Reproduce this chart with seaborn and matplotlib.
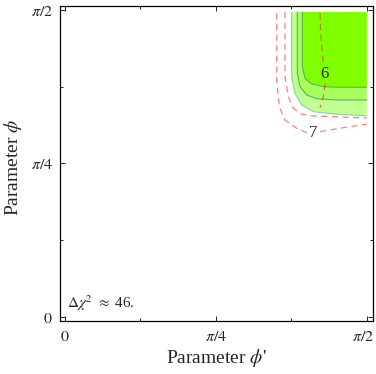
import numpy as np
import pandas as pd
import matplotlib
matplotlib.use("Agg")
import matplotlib.pyplot as plt
import matplotlib.transforms as mtransforms
import seaborn as sns

# ---- data (radians) ----
PI2 = np.pi / 2
y_top = 1.5607

# filled region boundaries (contour lines of the filled bands)
bandA_x = [1.1810, 1.1810, 1.1981, 1.2330, 1.2933, 1.4149, 1.5708]
bandA_y = [1.5607, 1.2293, 1.1443, 1.0843, 1.0500, 1.0367, 1.0295]
bandB_x = [1.2101, 1.2101, 1.2241, 1.2590, 1.3109, 1.4149, 1.5708]
bandB_y = [1.5607, 1.2467, 1.1781, 1.1355, 1.1166, 1.1099, 1.1099]
bandC_x = [1.2361, 1.2361, 1.2501, 1.2849, 1.3452, 1.4149, 1.5708]
bandC_y = [1.5607, 1.2805, 1.2211, 1.1919, 1.1781, 1.1750, 1.1750]

# dashed contours
dashA_x = [1.1462, 1.1462, 1.1633, 1.1893, 1.2330, 1.2933, 1.4320, 1.5708]
dashA_y = [1.5607, 1.2293, 1.1268, 1.0674, 1.0367, 1.0280, 1.0229, 1.0177]
dash7a_x = [1.1030, 1.1030, 1.1165, 1.1462, 1.2070, 1.2590]
dash7a_y = [1.5540, 1.2124, 1.0756, 1.0075, 0.9650, 0.9424]
dash7b_x = [1.3281, 1.4492, 1.5708]
dash7b_y = [0.9476, 0.9681, 0.9855]
dash6a_x = [1.3281, 1.3317, 1.3400, 1.3452]
dash6a_y = [1.5540, 1.4516, 1.3491, 1.2943]
dash6b_x = [1.3541, 1.3452, 1.3281]
dash6b_y = [1.1919, 1.1268, 1.0690]

labels_txt = ["6", "7"]
labels_x = [1.3515, 1.2917]
labels_y = [1.2431, 0.9409]

tick_vals = [0, np.pi / 4, np.pi / 2]
tick_labels = ["$0$", r"$\pi/4$", r"$\pi/2$"]
minor_vals = [np.pi / 8, 3 * np.pi / 8]
chi_text = r"$\Delta\chi^2$ $\approx$ 46."
xlabel_txt = r"Parameter $\phi$'"
ylabel_txt = r"Parameter $\phi$"

# ---- style ----
sns.set_style("ticks")
plt.rcParams["font.family"] = ["Liberation Serif", "DejaVu Serif"]
plt.rcParams["mathtext.fontset"] = "stix"

fig = plt.figure(figsize=(3.76, 3.74), dpi=100)
ax = fig.add_axes([0.1588, 0.1417, 0.8324, 0.8431])

band_colors = ["#c0ff90", "#a6ff5c", "#80ff00"]
for bx, by, col in [(bandA_x, bandA_y, band_colors[0]),
                    (bandB_x, bandB_y, band_colors[1]),
                    (bandC_x, bandC_y, band_colors[2])]:
    px = list(bx) + [PI2]
    py = list(by) + [y_top]
    ax.fill(px, py, color=col, lw=0, zorder=1)

line_cols = ["#8fcfa8", "#5fb060", "#5fb060"]
for (bx, by), lc in zip([(bandA_x, bandA_y), (bandB_x, bandB_y), (bandC_x, bandC_y)], line_cols):
    df = pd.DataFrame({"x": bx, "y": by})
    sns.lineplot(data=df, x="x", y="y", sort=False, estimator=None, ax=ax,
                 color=lc, lw=0.8, zorder=2)

for dx, dy in [(dashA_x, dashA_y), (dash7a_x, dash7a_y), (dash7b_x, dash7b_y),
               (dash6a_x, dash6a_y), (dash6b_x, dash6b_y)]:
    df = pd.DataFrame({"x": dx, "y": dy})
    sns.lineplot(data=df, x="x", y="y", sort=False, estimator=None, ax=ax,
                 color="red", alpha=0.5, lw=0.9, dashes=False, zorder=3,
                 linestyle=(0, (5, 3.5)))

for t, tx, ty in zip(labels_txt, labels_x, labels_y):
    ax.text(tx, ty, t, fontsize=12, ha="center", va="center", zorder=4)

ax.text(0.012, 0.045, chi_text, fontsize=11, ha="left", va="baseline")

ax.set_xlim(-0.025, PI2 + 0.031)
ax.set_ylim(-0.022, PI2 + 0.022)
ax.set_xticks(tick_vals)
ax.set_xticklabels(tick_labels)
ax.set_yticks(tick_vals)
ax.set_yticklabels(tick_labels)
ax.set_xticks(minor_vals, minor=True)
ax.set_yticks(minor_vals, minor=True)
ax.tick_params(which="both", direction="in", top=True, right=True,
               labelsize=11.5, width=0.7, color="#222222")
ax.tick_params(axis="x", which="major", length=3.5, pad=6)
ax.tick_params(axis="y", which="major", length=3.5, pad=5)
ax.tick_params(which="minor", length=2.2)
for s in ax.spines.values():
    s.set_linewidth(0.9)
    s.set_color("black")

# keep the last x tick label inside the canvas
last = ax.get_xticklabels()[-1]
last.set_transform(last.get_transform() +
                   mtransforms.ScaledTranslation(-4 / 100, 0, fig.dpi_scale_trans))

ax.set_xlabel(xlabel_txt, fontsize=14)
ax.set_ylabel(ylabel_txt, fontsize=14)
ax.xaxis.label.set_va("center")
ax.yaxis.label.set_va("center")
ax.xaxis.set_label_coords(0.4994, -0.117)
ax.yaxis.set_label_coords(-0.148, 0.488)

fig.savefig("out.png", dpi=100)
